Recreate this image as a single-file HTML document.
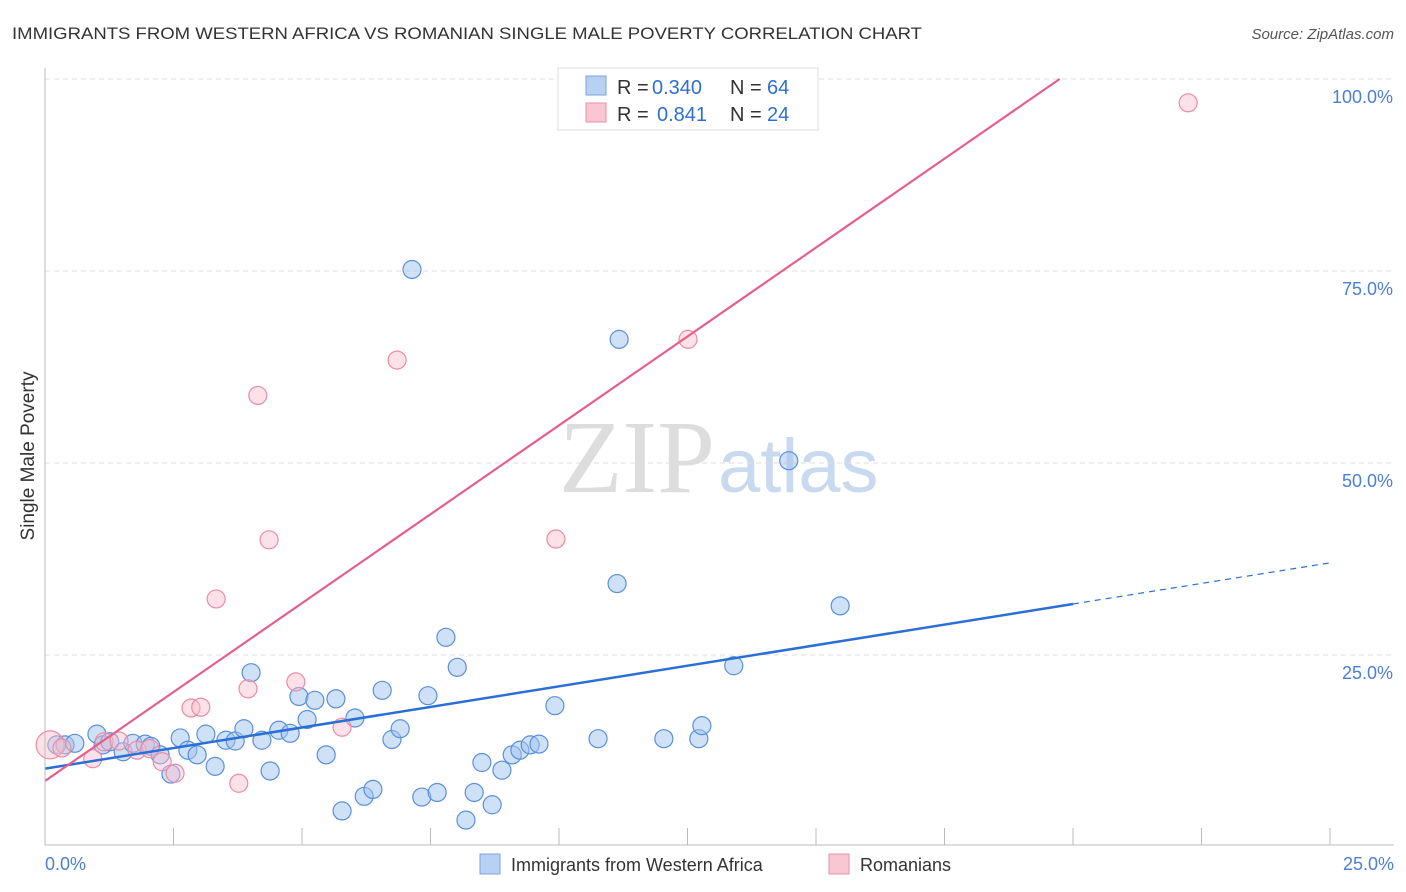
<!DOCTYPE html>
<html><head><meta charset="utf-8"><style>
body{margin:0;background:#fff;font-family:"Liberation Sans",sans-serif;}
#c{position:relative;width:1406px;height:892px;overflow:hidden}
</style></head><body><div id="c">
<svg id="s" width="1406" height="892" xmlns="http://www.w3.org/2000/svg">
<text x="12" y="39" font-size="17" fill="#333" textLength="910" lengthAdjust="spacingAndGlyphs">IMMIGRANTS FROM WESTERN AFRICA VS ROMANIAN SINGLE MALE POVERTY CORRELATION CHART</text>
<text x="1394" y="39" font-size="15" fill="#555" font-style="italic" text-anchor="end">Source: ZipAtlas.com</text>
<text x="0" y="0" transform="translate(34,456) rotate(-90)" font-size="19" fill="#333" text-anchor="middle">Single Male Poverty</text>
<text x="715" y="492" font-size="104" fill="#ddd" text-anchor="end" font-family="Liberation Serif,serif">ZIP</text>
<text x="718" y="492" font-size="76" fill="#c9d9f0">atlas</text>
<g id="grid"></g><g id="pts"></g><g id="trend"></g>
<line x1="45" y1="68" x2="45" y2="845" stroke="#bbb"/>
<line x1="45" y1="845" x2="1394" y2="845" stroke="#bbb"/>
<text x="45" y="870" font-size="18" fill="#4a7fd4">0.0%</text>
<text x="1394" y="870" font-size="18" fill="#4a7fd4" text-anchor="end">25.0%</text>
<rect x="558" y="68" width="260" height="62" fill="#fff" stroke="#ddd"/>
<rect x="586" y="76" width="20" height="19" fill="#b8d0f2" stroke="#7aa3e0"/>
<rect x="586" y="103" width="20" height="19" fill="#f9c6d4" stroke="#ea8fa9"/>
<g font-size="20"><text x="617" y="94" fill="#333">R =</text><text x="652" y="94" fill="#2f6fd1">0.340</text><text x="730" y="94" fill="#333">N =</text><text x="767" y="94" fill="#2f6fd1">64</text></g>
<g font-size="20"><text x="617" y="121" fill="#333">R =</text><text x="657" y="121" fill="#2f6fd1">0.841</text><text x="730" y="121" fill="#333">N =</text><text x="767" y="121" fill="#2f6fd1">24</text></g>
<rect x="480" y="854" width="20" height="20" fill="#b8d0f2" stroke="#7aa3e0"/>
<text x="511" y="871" font-size="18" fill="#333">Immigrants from Western Africa</text>
<rect x="829" y="854" width="20" height="20" fill="#f9c6d4" stroke="#ea8fa9"/>
<text x="860" y="871" font-size="18" fill="#333">Romanians</text>
</svg></div>
<script>
const blueX=[0.23,0.39,0.58,1.01,1.13,1.26,1.52,1.71,1.95,2.06,2.24,2.45,2.63,2.78,2.96,3.13,3.31,3.52,3.70,3.87,4.01,4.22,4.38,4.55,4.77,4.94,5.10,5.25,5.47,5.66,5.78,6.03,6.21,6.38,6.56,6.75,6.91,7.14,7.33,7.45,7.63,7.80,8.02,8.19,8.35,8.50,8.70,8.89,9.09,9.24,9.44,9.61,9.92,10.76,11.13,11.17,12.04,12.72,12.78,13.40,14.47,15.47];
const blueY=[13.3,13.3,13.5,14.7,13.3,13.7,12.4,13.5,13.4,13.1,12.0,9.5,14.2,12.6,12.0,14.7,10.5,13.9,13.8,15.4,22.7,13.9,9.9,15.2,14.8,19.6,16.6,19.1,12.0,19.3,4.7,16.8,6.6,7.5,20.4,14.0,15.4,75.2,6.5,19.7,7.1,27.3,23.4,3.5,7.1,11.0,5.5,10.0,12.0,12.6,13.3,13.4,18.4,14.1,34.3,66.1,14.1,14.1,15.8,23.6,50.3,31.4];
const pinkX=[0.10,0.33,0.93,1.15,1.44,1.79,2.04,2.28,2.53,2.84,3.03,3.33,3.77,3.95,4.14,4.36,4.88,5.78,6.85,9.94,12.51,22.24];
const pinkY=[13.3,12.9,11.5,13.7,13.8,12.6,12.8,11.1,9.6,18.1,18.2,32.3,8.3,20.6,58.8,40.0,21.5,15.6,63.4,40.1,66.1,96.9];
const yTicks=[25,50,75,100];
const yTickLabels=["25.0%","50.0%","75.0%","100.0%"];
const xTicks=[2.5,5,7.5,10,12.5,15,17.5,20,22.5,25];
const blueTrend=[10.2,37.0];
const pinkTrend=[8.6,4.63];
const X=v=>45+v/25*1285, Y=v=>847-v/25*192;
const NS="http://www.w3.org/2000/svg";
function mk(p,t,a){const e=document.createElementNS(NS,t);for(const k in a)e.setAttribute(k,a[k]);p.appendChild(e);return e;}
const g=document.getElementById('grid');
yTicks.forEach((t,i)=>{
 const l=mk(g,'line',{x1:45,x2:1394,y1:Y(t),y2:Y(t),stroke:'#ddd','stroke-dasharray':'5,4'});
 
 
 const tx=mk(g,'text',{x:1393,y:Y(t)+24,'font-size':18,fill:'#4a7fd4','text-anchor':'end'});
 tx.textContent=yTickLabels[i];
 
 
});
xTicks.forEach(t=>{
 const l=mk(g,'line',{x1:X(t),x2:X(t),y1:828,y2:845,stroke:'#bbb'});
 
 
});
const pg=document.getElementById('pts');
blueX.forEach((x,i)=>{
 const c=mk(pg,'circle',{cx:X(x),cy:Y(blueY[i]),r:9,fill:'rgba(160,195,240,0.5)',stroke:'#5b8fdc','stroke-width':1.2});
 
 
});
pinkX.forEach((x,i)=>{
 const c=mk(pg,'circle',{cx:X(x),cy:Y(pinkY[i]),r:i==0?14:9,fill:'rgba(248,190,205,0.45)',stroke:'#ec8ba6','stroke-width':1.2});
 
 
});
const tg=document.getElementById('trend');
const bs=(blueTrend[1]-blueTrend[0])/25;
let l=mk(tg,'line',{x1:X(0),y1:Y(blueTrend[0]),x2:X(20),y2:Y(blueTrend[0]+bs*20),stroke:'#2a6fd6','stroke-width':2.5});


l=mk(tg,'line',{x1:X(20),y1:Y(blueTrend[0]+bs*20),x2:X(25),y2:Y(blueTrend[1]),stroke:'#2a6fd6','stroke-width':1.2,'stroke-dasharray':'6,5'});


const pe=(100-pinkTrend[0])/pinkTrend[1];
l=mk(tg,'line',{x1:X(0),y1:Y(pinkTrend[0]),x2:X(pe),y2:Y(100),stroke:'#e4608a','stroke-width':2.2});


</script></body></html>
